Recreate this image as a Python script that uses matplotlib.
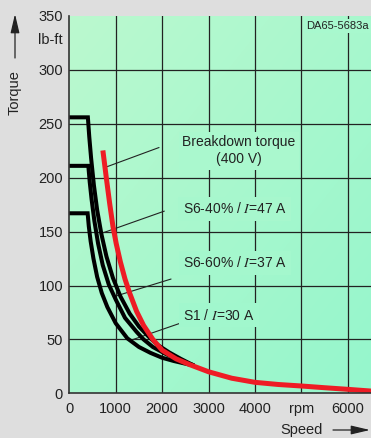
import numpy as np
import matplotlib
matplotlib.use("Agg")
import matplotlib.pyplot as plt
from matplotlib.colors import LinearSegmentedColormap, to_rgb
from matplotlib.patches import FancyArrowPatch

plt.rcParams['font.family'] = ['Liberation Sans', 'DejaVu Sans']
plt.rcParams['mathtext.fontset'] = 'stix'

# data (rpm, lb-ft)
s1_rpm = [0, 395, 420, 460, 520, 600, 700, 820, 1000, 1250, 1500, 1750, 2000, 2250, 2550]
s1_tq = [167, 167, 155, 141, 125, 108, 93, 80, 65, 51, 43, 37.5, 33, 30, 27]

s6_60_rpm = [0, 410, 440, 480, 540, 620, 720, 850, 1000, 1200, 1450, 1600, 1800, 2100, 2400, 2650]
s6_60_tq = [211, 211, 196, 180, 160, 139, 119, 101, 87, 70, 57, 50, 43, 36, 30.5, 26.5]

s6_40_rpm = [0, 400, 430, 470, 530, 600, 690, 800, 940, 1100, 1300, 1500, 1700, 1900, 2150, 2400, 2650]
s6_40_tq = [256, 256, 238, 218, 193, 170, 148, 127, 107, 90, 74, 62, 53, 45, 38, 32, 26.5]

bd_rpm = [730, 800, 870, 940, 1010, 1100, 1200, 1300, 1450, 1600, 1800, 2000, 2300, 2600,
          3000, 3500, 4000, 4500, 5000, 5500, 6000, 6500]
bd_tq = [223, 199, 176, 155, 139, 122, 106, 93, 76, 63, 50, 40, 32, 26.5,
         20, 14, 10.2, 8.2, 6.8, 5.2, 3.7, 2.1]

xticks = [0, 1000, 2000, 3000, 4000, 5000, 6000]
xticklabels = ['0', '1000', '2000', '3000', '4000', 'rpm', '6000']
yticks = [0, 50, 100, 150, 200, 250, 300, 350]

# labels: (text, leader start on curve, leader end, text anchor)
labels = [
    ('S6-40% / $I$=47 A', (733, 149), (2047, 169), (2440, 171)),
    ('S6-60% / $I$=37 A', (985, 90), (2192, 106), (2450, 121)),
    ('S1 / $I$=30 A', (1345, 49.5), (2422, 65.5), (2450, 72.5)),
]

c_light = np.array(to_rgb('#bbf9cf'))
c_dark = np.array(to_rgb('#95f6cc'))
txt_col = '#222222'


def bg_col(xa, ya):
    t = (xa + (1 - ya)) / 2
    return tuple(c_light * (1 - t) + c_dark * t)


fig = plt.figure(figsize=(3.71, 4.38), dpi=100, facecolor='#dedede')
ax = fig.add_axes([0.1868, 0.102, 0.8132, 0.8615])
ax.set_xlim(0, 6500)
ax.set_ylim(0, 350)

# gradient background
gx, gy = np.meshgrid(np.linspace(0, 1, 200), np.linspace(1, 0, 200))
grad = (gx + (1 - gy)) / 2
cmap = LinearSegmentedColormap.from_list('bg', [c_light, c_dark])
ax.imshow(grad, cmap=cmap, extent=[0, 1, 0, 1], transform=ax.transAxes,
          aspect='auto', zorder=0, vmin=0, vmax=1)

for x in xticks[1:]:
    ax.axvline(x, color='#222222', lw=0.9, zorder=1)
for y in yticks[1:-1]:
    ax.axhline(y, color='#222222', lw=0.9, zorder=1)

ax.plot(s1_rpm, s1_tq, color='black', lw=2.9, zorder=4, solid_joinstyle='miter')
ax.plot(s6_60_rpm, s6_60_tq, color='black', lw=2.9, zorder=4, solid_joinstyle='miter')
ax.plot(s6_40_rpm, s6_40_tq, color='black', lw=2.9, zorder=4, solid_joinstyle='miter')
ax.plot(bd_rpm, bd_tq, color='#ee1c25', lw=3.6, zorder=5)

# breakdown label
ax.annotate('', xy=(800, 210), xytext=(1933, 228),
            arrowprops=dict(arrowstyle='-', lw=0.8, color=txt_col, shrinkA=0, shrinkB=0), zorder=3)
ax.text(3657, 225, 'Breakdown torque\n(400 V)', ha='center', va='center', fontsize=10,
        color=txt_col, linespacing=1.25, zorder=3,
        bbox=dict(boxstyle='square,pad=0.25', fc=bg_col(0.56, 0.64), ec='none'))

for txt, p0, p1, pt in labels:
    ax.annotate('', xy=p0, xytext=p1,
                arrowprops=dict(arrowstyle='-', lw=0.8, color=txt_col, shrinkA=0, shrinkB=0), zorder=3)
    ax.text(pt[0], pt[1], txt, ha='left', va='center', fontsize=10, color=txt_col, zorder=3,
            bbox=dict(boxstyle='square,pad=0.3', fc=bg_col(0.55, pt[1] / 350), ec='none'))

ax.text(0.993, 0.974, 'DA65-5683a', transform=ax.transAxes, ha='right', va='center',
        fontsize=8, color=txt_col, zorder=3,
        bbox=dict(boxstyle='square,pad=0.2', fc=bg_col(0.95, 0.97), ec='none'))

ax.set_xticks(xticks)
ax.set_xticklabels(xticklabels)
ax.set_yticks(yticks)
ax.tick_params(length=0, labelsize=10.5, colors=txt_col)
ax.tick_params(axis='x', pad=6)
ax.tick_params(axis='y', pad=4.5)
ax.text(-0.022, 328, 'lb-ft', transform=ax.get_yaxis_transform(), ha='right', va='center',
        fontsize=10.5, color=txt_col)

for s in ['top', 'right']:
    ax.spines[s].set_visible(False)
for s in ['left', 'bottom']:
    ax.spines[s].set_color('#333333')
    ax.spines[s].set_linewidth(1.2)
    ax.spines[s].set_zorder(6)

W, H = 371.0, 438.0
fig.text(15 / W, 1 - 93 / H, 'Torque', rotation=90, ha='center', va='center',
         fontsize=10.5, color=txt_col)
fig.text(302 / W, 1 - 430 / H, 'Speed', ha='center', va='center', fontsize=10.5, color=txt_col)
ar = dict(arrowstyle='-|>,head_length=1.15,head_width=0.27', mutation_scale=10,
          lw=0.9, color=txt_col, shrinkA=0, shrinkB=0)
fig.add_artist(FancyArrowPatch((15 / W, 1 - 58 / H), (15 / W, 1 - 14 / H),
                               transform=fig.transFigure, **ar))
fig.add_artist(FancyArrowPatch((333 / W, 1 - 430 / H), (370 / W, 1 - 430 / H),
                               transform=fig.transFigure, **ar))

fig.savefig('out.png', dpi=100, facecolor=fig.get_facecolor())
